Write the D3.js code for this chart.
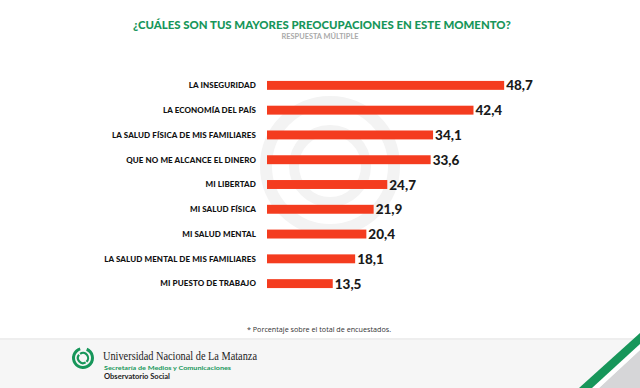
<!DOCTYPE html>
<html>
<head>
<meta charset="utf-8">
<script src="https://cdn.jsdelivr.net/npm/d3@7"></script>
<style>
  body { margin: 0; background: #fff; }
  svg { display: block; }
</style>
</head>
<body>
<div id="chart"></div>
<script>
var categories = [
  "LA INSEGURIDAD",
  "LA ECONOMÍA DEL PAÍS",
  "LA SALUD FÍSICA DE MIS FAMILIARES",
  "QUE NO ME ALCANCE EL DINERO",
  "MI LIBERTAD",
  "MI SALUD FÍSICA",
  "MI SALUD MENTAL",
  "LA SALUD MENTAL DE MIS FAMILIARES",
  "MI PUESTO DE TRABAJO"
];
var values = [48.7, 42.4, 34.1, 33.6, 24.7, 21.9, 20.4, 18.1, 13.5];

var width = 640, height = 388;
var green = "#17965a";

var svg = d3.select("#chart").append("svg")
  .attr("width", width)
  .attr("height", height);

// faint watermark logo behind bars
var wm = svg.append("g").attr("transform", "translate(330,166)")
  .attr("fill", "none").attr("stroke", "#f3f3f3");
wm.append("circle").attr("r", 64).attr("stroke-width", 12);
wm.append("circle").attr("r", 36).attr("stroke-width", 10);

// title
svg.append("text")
  .attr("x", 322).attr("y", 29)
  .attr("text-anchor", "middle")
  .attr("font-family", "Lato, sans-serif")
  .attr("font-weight", "900")
  .attr("font-size", 11.4)
  .attr("fill", green)
  .text("¿CUÁLES SON TUS MAYORES PREOCUPACIONES EN ESTE MOMENTO?");

svg.append("text")
  .attr("x", 320).attr("y", 38.5)
  .attr("text-anchor", "middle")
  .attr("font-family", "Lato, sans-serif")
  .attr("font-weight", "700")
  .attr("font-size", 7.4)
  .attr("fill", "#aaa")
  .text("RESPUESTA MÚLTIPLE");

// scales
var x = d3.scaleLinear()
  .domain([0, 50])
  .range([267, 267 + 50 * 4.87]);

var y = d3.scaleBand()
  .domain(categories)
  .range([73, 296])
  .paddingInner(0.64)
  .paddingOuter(0.32);

var rows = svg.append("g").selectAll("g")
  .data(categories)
  .enter().append("g");

rows.append("rect")
  .attr("x", x(0))
  .attr("y", function(d) { return y(d); })
  .attr("width", function(d, i) { return x(values[i]) - x(0); })
  .attr("height", y.bandwidth())
  .attr("fill", "#f43c1f");

rows.append("text")
  .attr("x", 256)
  .attr("y", function(d) { return y(d) + y.bandwidth() / 2 + 2.8; })
  .attr("text-anchor", "end")
  .attr("font-family", "Lato, sans-serif")
  .attr("font-weight", "900")
  .attr("font-size", 8)
  .attr("letter-spacing", 0.1)
  .attr("fill", "#111")
  .text(function(d) { return d; });

rows.append("text")
  .attr("x", function(d, i) { return x(values[i]) + 2; })
  .attr("y", function(d) { return y(d) + y.bandwidth() / 2 + 5; })
  .attr("font-family", "Lato, sans-serif")
  .attr("font-weight", "900")
  .attr("font-size", 13.5)
  .attr("fill", "#1a1a1a")
  .text(function(d, i) { return String(values[i]).replace(".", ","); });

// footnote
svg.append("text")
  .attr("x", 319).attr("y", 332)
  .attr("text-anchor", "middle")
  .attr("font-family", "'Open Sans', sans-serif")
  .attr("font-size", 7.2)
  .attr("fill", "#333")
  .text("* Porcentaje sobre el total de encuestados.");

// footer band
svg.append("rect")
  .attr("x", 0).attr("y", 338).attr("width", width).attr("height", 50)
  .attr("fill", "#f6f6f6");
svg.append("rect")
  .attr("x", 0).attr("y", 338).attr("width", width).attr("height", 2)
  .attr("fill", "#eeeeee");

// corner stripes
svg.append("path")
  .attr("d", "M640,350 L640,388 L599,388 Z")
  .attr("fill", "#d6d6d8");
svg.append("path")
  .attr("d", "M640,338 L640,350 L599,388 L586,388 Z")
  .attr("fill", "#fff");
svg.append("path")
  .attr("d", "M640,333 L640,344 L592,388 L579,388 Z")
  .attr("fill", green);

// footer logo
var logo = svg.append("g").attr("transform", "translate(83,358)");
logo.append("path")
  .attr("d", d3.arc()({innerRadius: 8, outerRadius: 11, startAngle: 0.4, endAngle: 2 * Math.PI - 0.3}))
  .attr("fill", green);
logo.append("path")
  .attr("d", d3.arc()({innerRadius: 4, outerRadius: 6.2, startAngle: -0.6, endAngle: 2.4}))
  .attr("fill", green);
logo.append("path")
  .attr("d", d3.arc()({innerRadius: 4, outerRadius: 6.2, startAngle: 2.6, endAngle: 5.4}))
  .attr("fill", green);

svg.append("text")
  .attr("x", 103).attr("y", 360)
  .attr("font-family", "'Liberation Serif', serif")
  .attr("font-size", 12)
  .attr("textLength", 154)
  .attr("lengthAdjust", "spacingAndGlyphs")
  .attr("fill", "#222")
  .text("Universidad Nacional de La Matanza");

svg.append("text")
  .attr("x", 104).attr("y", 370)
  .attr("font-family", "Lato, sans-serif")
  .attr("font-weight", "700")
  .attr("font-size", 6.4)
  .attr("textLength", 127)
  .attr("lengthAdjust", "spacingAndGlyphs")
  .attr("fill", green)
  .text("Secretaría de Medios y Comunicaciones");

svg.append("text")
  .attr("x", 104).attr("y", 378.5)
  .attr("font-family", "Lato, sans-serif")
  .attr("font-weight", "700")
  .attr("font-size", 6.6)
  .attr("textLength", 66)
  .attr("lengthAdjust", "spacingAndGlyphs")
  .attr("fill", "#222")
  .text("Observatorio Social");
</script>
</body>
</html>
